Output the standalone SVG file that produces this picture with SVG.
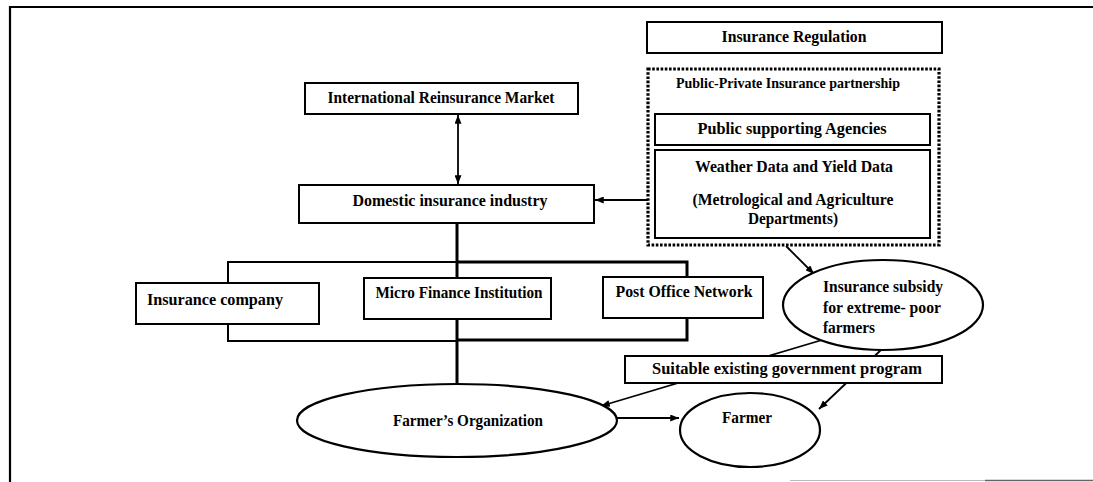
<svg xmlns="http://www.w3.org/2000/svg" width="1093" height="482" viewBox="0 0 1093 482">
<defs>
<style>
.box{fill:#fff;stroke:#000;stroke-width:2}
.dot{fill:none;stroke:#000;stroke-width:3.2;stroke-dasharray:2.6 1.6}
.ell{fill:#fff;stroke:#000;stroke-width:2.2}
.t{font-family:"Liberation Serif","Times New Roman",serif;font-weight:bold;font-size:16px;fill:#000}
.c{text-anchor:middle}
.ln{fill:none;stroke:#000;stroke-width:1.8}
</style>
<marker id="ah" viewBox="0 0 10 8" refX="10" refY="4" markerWidth="9" markerHeight="7" markerUnits="userSpaceOnUse" orient="auto-start-reverse">
<path d="M0,0 L10,4 L0,8 z" fill="#000"/>
</marker>
</defs>
<rect width="1093" height="482" fill="#fff"/>
<g id="frame">
<path d="M10,482 V7 H1093" fill="none" stroke="#000" stroke-width="2.2"/>
<line x1="790" y1="480.5" x2="985" y2="480.5" stroke="#bbb" stroke-width="1"/>
<line x1="985" y1="480.5" x2="1093" y2="480.5" stroke="#666" stroke-width="1.5"/>
</g>
<g id="connectors">
<line x1="457" y1="223" x2="457" y2="384" stroke="#000" stroke-width="3"/>
<path d="M457,262 H228 V341 H457" fill="none" stroke="#000" stroke-width="2"/>
<path d="M457,262 H687 V340 H457" fill="none" stroke="#000" stroke-width="3"/>
<line class="ln" x1="458" y1="115" x2="458" y2="184" marker-start="url(#ah)" marker-end="url(#ah)"/>
<line class="ln" x1="648" y1="200" x2="595" y2="200" marker-end="url(#ah)"/>
<line class="ln" x1="786" y1="246" x2="814" y2="274" marker-end="url(#ah)"/>
<line class="ln" x1="822" y1="340" x2="601" y2="406" marker-end="url(#ah)"/>
<line class="ln" x1="882" y1="349" x2="819" y2="409" marker-end="url(#ah)"/>
<line class="ln" x1="617" y1="418" x2="679" y2="418" marker-end="url(#ah)"/>
</g>
<g id="irm">
<rect class="box" x="305" y="83" width="273" height="31"/>
<text class="t c" x="441" y="103" textLength="227" lengthAdjust="spacingAndGlyphs">International Reinsurance Market</text>
</g>
<g id="domestic">
<rect class="box" x="299" y="185" width="295" height="38"/>
<text class="t c" x="450" y="206" textLength="195" lengthAdjust="spacingAndGlyphs">Domestic insurance industry</text>
</g>
<g id="regulation">
<rect class="box" x="647" y="22" width="295" height="31"/>
<text class="t c" x="794" y="42" textLength="145" lengthAdjust="spacingAndGlyphs">Insurance Regulation</text>
</g>
<g id="ppp">
<rect class="dot" x="648" y="69" width="291" height="176"/>
<text class="t c" x="788" y="88" style="font-size:14px" textLength="224" lengthAdjust="spacingAndGlyphs">Public-Private Insurance partnership</text>
</g>
<g id="agencies">
<rect class="box" x="655" y="114" width="275" height="31"/>
<text class="t c" x="792" y="134" textLength="189" lengthAdjust="spacingAndGlyphs">Public supporting Agencies</text>
</g>
<g id="weather">
<rect class="box" x="655" y="150" width="275" height="88"/>
<text class="t c" x="794" y="172" textLength="198" lengthAdjust="spacingAndGlyphs">Weather Data and Yield Data</text>
<text class="t c" x="793" y="205" textLength="201" lengthAdjust="spacingAndGlyphs">(Metrological and Agriculture</text>
<text class="t c" x="793" y="224" textLength="90" lengthAdjust="spacingAndGlyphs">Departments)</text>
</g>
<g id="insco">
<rect class="box" x="136" y="283" width="183" height="41"/>
<text class="t" x="147" y="305" textLength="136" lengthAdjust="spacingAndGlyphs">Insurance company</text>
</g>
<g id="mfi">
<rect class="box" x="364" y="278" width="187" height="41"/>
<text class="t c" x="459" y="298" textLength="167" lengthAdjust="spacingAndGlyphs">Micro Finance Institution</text>
</g>
<g id="post">
<rect class="box" x="603" y="277" width="160" height="41"/>
<text class="t c" x="684" y="297" textLength="137" lengthAdjust="spacingAndGlyphs">Post Office Network</text>
</g>
<g id="subsidy">
<ellipse class="ell" cx="883" cy="305" rx="100" ry="45"/>
<text class="t" x="823" y="292" textLength="120" lengthAdjust="spacingAndGlyphs">Insurance subsidy</text>
<text class="t" x="823" y="313" textLength="118" lengthAdjust="spacingAndGlyphs">for extreme- poor</text>
<text class="t" x="823" y="333" textLength="52" lengthAdjust="spacingAndGlyphs">farmers</text>
</g>
<g id="govt">
<rect class="box" x="625" y="356" width="317" height="27"/>
<text class="t c" x="787" y="374" textLength="270" lengthAdjust="spacingAndGlyphs">Suitable existing government program</text>
</g>
<g id="farmers-org">
<ellipse class="ell" cx="457" cy="420.5" rx="160" ry="36.5"/>
<text class="t c" x="468" y="426" textLength="150" lengthAdjust="spacingAndGlyphs">Farmer’s Organization</text>
</g>
<g id="farmer">
<ellipse class="ell" cx="750" cy="430" rx="70" ry="37"/>
<text class="t c" x="747" y="423" textLength="50" lengthAdjust="spacingAndGlyphs">Farmer</text>
</g>
</svg>
